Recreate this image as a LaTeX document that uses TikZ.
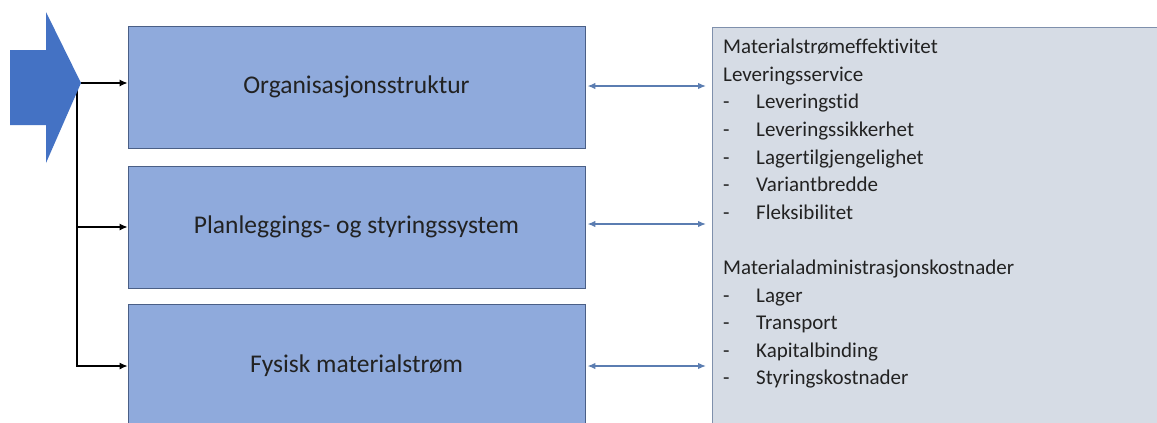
\documentclass[tikz,border=0pt]{standalone}
\usepackage{fontspec}
\setmainfont{Carlito}[Ligatures={NoCommon}]
\usetikzlibrary{arrows.meta}
\definecolor{boxfill}{HTML}{8FAADC}
\definecolor{boxline}{HTML}{4A5F86}
\definecolor{bigarrow}{HTML}{4472C4}
\definecolor{panelfill}{HTML}{D6DCE5}
\definecolor{panelline}{HTML}{7F90AC}
\definecolor{linkline}{HTML}{5B7DB1}
\definecolor{textcol}{HTML}{222222}
\begin{document}
\begin{tikzpicture}[x=1pt,y=-1pt,
  areabox/.style={draw=boxline, line width=0.9pt, fill=boxfill, rectangle,
    minimum width=457pt, minimum height=122pt, inner sep=0pt,
    font=\fontsize{25.5}{30}\selectfont, text=textcol},
  feed/.style={draw=black, line width=1.1pt, -{Latex[length=8pt,width=7pt]}},
  link/.style={draw=linkline, line width=1.4pt, {Latex[length=8pt,width=6.5pt]}-{Latex[length=8pt,width=6.5pt]}}]
\useasboundingbox (0,0) rectangle (1157,423);
\clip (0,0) rectangle (1157,423);
\fill[white] (0,0) rectangle (1157,423);

% three areas
\node[areabox] (b1) at (356.5,87) {Organisasjonsstruktur};
\node[areabox] (b2) at (356.5,227) {Planleggings- og styringssystem};
\node[areabox, minimum height=130pt, anchor=north] (b3) at (356.5,304) {};
\node[font=\fontsize{25.5}{30}\selectfont, text=textcol] (b3t) at (356.5,366) {Fysisk materialstrøm};

% result panel
\node[draw=panelline, line width=0.9pt, fill=panelfill, rectangle, anchor=north west,
  minimum width=460pt, minimum height=410pt, inner sep=0pt] (panel) at (712,27) {};
\node[anchor=north west, align=left, inner sep=0pt, text=textcol,
  font=\fontsize{21}{27.6}\selectfont] (list) at (723,39) {%
Materialstrømeffektivitet\\
Leveringsservice\\
\makebox[33pt][l]{-}Leveringstid\\
\makebox[33pt][l]{-}Leveringssikkerhet\\
\makebox[33pt][l]{-}Lagertilgjengelighet\\
\makebox[33pt][l]{-}Variantbredde\\
\makebox[33pt][l]{-}Fleksibilitet\\
\strut\\
Materialadministrasjonskostnader\\
\makebox[33pt][l]{-}Lager\\
\makebox[33pt][l]{-}Transport\\
\makebox[33pt][l]{-}Kapitalbinding\\
\makebox[33pt][l]{-}Styringskostnader};

% feed lines from the input arrow
\coordinate (tip) at (81,83);
\coordinate (split) at (77,88);
\draw[feed] (tip) -- (tip -| b1.west);
\draw[feed] (split) |- (b2.west);
\draw[feed] (split) |- (b3.west |- b3t);

% input arrow
\fill[bigarrow] (10,50) -- (46,50) -- (46,12) -- (tip) -- (46,163) -- (46,125) -- (10,125) -- cycle;

% links between areas and results
\coordinate (p1) at (panel.west |- 0,86);
\coordinate (p2) at (panel.west |- 0,224);
\coordinate (p3) at (panel.west |- 0,366);
\draw[link] ([xshift=2pt]b1.east |- p1) -- ([xshift=-6pt]p1);
\draw[link] ([xshift=2pt]b2.east |- p2) -- ([xshift=-6pt]p2);
\draw[link] ([xshift=2pt]b3.east |- p3) -- ([xshift=-6pt]p3);
\end{tikzpicture}
\end{document}
